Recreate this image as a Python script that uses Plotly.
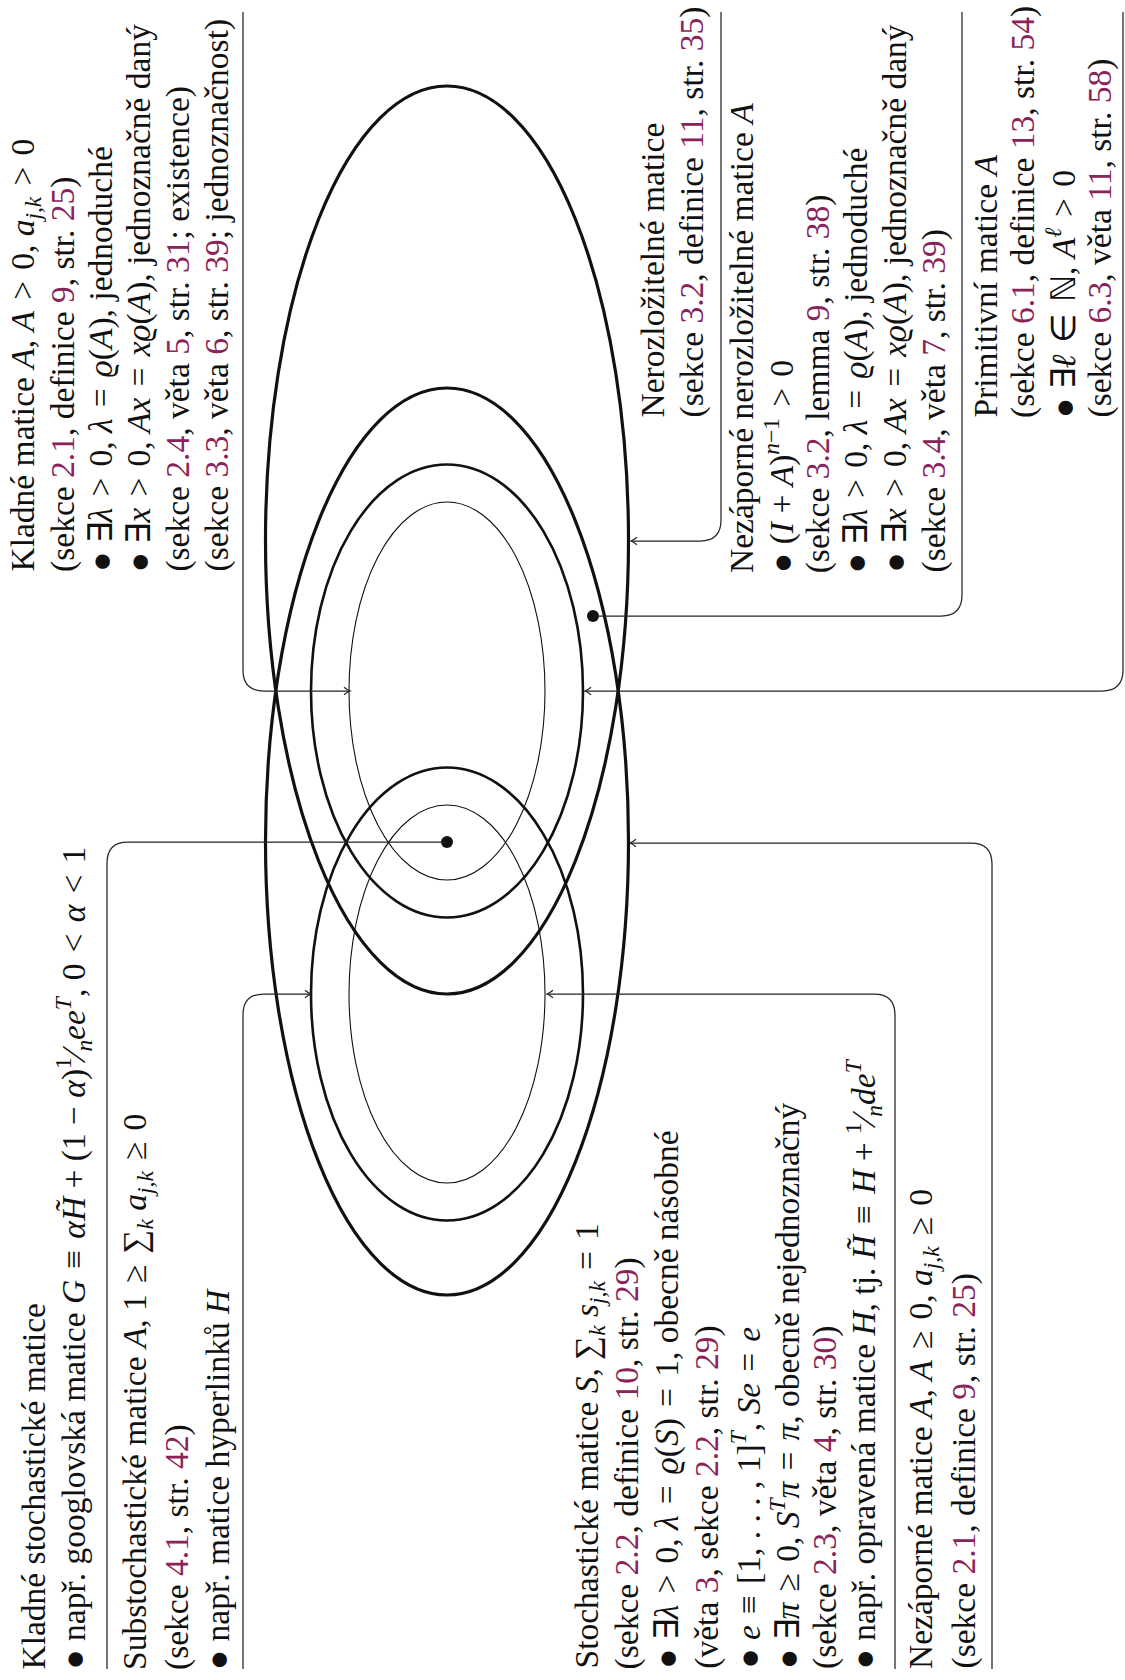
import re
import plotly.graph_objects as go

# ---------------- canvas ----------------
W, H = 1125, 1680
FONT = "Liberation Serif"
FS = 33.5
TEXT_COLOR = "#111111"
LINK_COLOR = "#8a2358"
LINE_COLOR = "#252525"

# ---------------- data: sets (ellipses) ----------------
SET_NAMES = ["Nerozložitelné", "Nezáporné", "Primitivní", "Kladné",
             "Substochastické", "Stochastické"]
ELL_CX = [447, 447, 447, 447, 447, 447]
ELL_CY = [540, 841.5, 691, 691, 994, 994]
ELL_RX = [181.5, 181.5, 136, 98, 136, 98]
ELL_RY = [454, 453.5, 226.5, 189, 226.5, 189]
ELL_W = [3.2, 3.2, 2.6, 1.1, 2.6, 1.1]

# ---------------- data: text blocks ----------------
KLADNE = [
    "Kladné matice <i>A</i>, <i>A</i> &gt; 0, <i>a</i><sub><i>j,k</i></sub> &gt; 0",
    "(sekce {2.1}, definice {9}, str. {25})",
    "• ∃<i>λ</i> &gt; 0, <i>λ</i> = <i>ϱ</i>(<i>A</i>), jednoduché",
    "• ∃<i>x</i> &gt; 0, <i>Ax</i> = <i>xϱ</i>(<i>A</i>), jednoznačně daný",
    "(sekce {2.4}, věta {5}, str. {31}; existence)",
    "(sekce {3.3}, věta {6}, str. {39}; jednoznačnost)",
]
NEROZLOZITELNE = [
    "Nerozložitelné matice",
    "(sekce {3.2}, definice {11}, str. {35})",
]
NEZAP_NEROZ = [
    "Nezáporné nerozložitelné matice <i>A</i>",
    "• (<i>I</i> + <i>A</i>)<sup><i>n</i>−1</sup> &gt; 0",
    "(sekce {3.2}, lemma {9}, str. {38})",
    "• ∃<i>λ</i> &gt; 0, <i>λ</i> = <i>ϱ</i>(<i>A</i>), jednoduché",
    "• ∃<i>x</i> &gt; 0, <i>Ax</i> = <i>xϱ</i>(<i>A</i>), jednoznačně daný",
    "(sekce {3.4}, věta {7}, str. {39})",
]
PRIMITIVNI = [
    "Primitivní matice <i>A</i>",
    "(sekce {6.1}, definice {13}, str. {54})",
    "• ∃<i>ℓ</i> ∈ ℕ, <i>A</i><sup><i>ℓ</i></sup> &gt; 0",
    "(sekce {6.3}, věta {11}, str. {58})",
]
KLADNE_STOCH = [
    "Kladné stochastické matice",
    "• např. googlovská matice <i>G</i> ≡ <i>αH̃</i> + (1 − <i>α</i>)<sup>1</sup>⁄<sub><i>n</i></sub><i>ee</i><sup><i>T</i></sup>, 0 &lt; <i>α</i> &lt; 1",
]
SUBSTOCH = [
    "Substochastické matice <i>A</i>, 1 ≥ ∑<sub><i>k</i></sub> <i>a</i><sub><i>j,k</i></sub> ≥ 0",
    "(sekce {4.1}, str. {42})",
    "• např. matice hyperlinků <i>H</i>",
]
STOCH = [
    "Stochastické matice <i>S</i>, ∑<sub><i>k</i></sub> <i>s</i><sub><i>j,k</i></sub> = 1",
    "(sekce {2.2}, definice {10}, str. {29})",
    "• ∃<i>λ</i> &gt; 0, <i>λ</i> = <i>ϱ</i>(<i>S</i>) = 1, obecně násobné",
    "(věta {3}, sekce {2.2}, str. {29})",
    "• <i>e</i> ≡ [1, . . . , 1]<sup><i>T</i></sup>, <i>Se</i> = <i>e</i>",
    "• ∃<i>π</i> ≥ 0, <i>S</i><sup><i>T</i></sup><i>π</i> = <i>π</i>, obecně nejednoznačný",
    "(sekce {2.3}, věta {4}, str. {30})",
    "• např. opravená matice <i>H</i>, tj. <i>H̃</i> ≡ <i>H</i> + <sup>1</sup>⁄<sub><i>n</i></sub><i>de</i><sup><i>T</i></sup>",
]
NEZAPORNE = [
    "Nezáporné matice <i>A</i>, <i>A</i> ≥ 0, <i>a</i><sub><i>j,k</i></sub> ≥ 0",
    "(sekce {2.1}, definice {9}, str. {25})",
]

# block layout: (lines, first column x, column step, text start y)
BLOCKS = [
    (KLADNE, 24, 38.4, 574),
    (NEROZLOZITELNE, 652, 39, 420),
    (NEZAP_NEROZ, 741, 38.4, 575),
    (PRIMITIVNI, 985, 38, 420),
    (KLADNE_STOCH, 33, 40, 1672),
    (SUBSTOCH, 137, 40, 1672),
    (STOCH, 588, 39.4, 1671),
    (NEZAPORNE, 923, 40, 1671),
]

# connectors: (tip x, tip y, vertical line x, vertical line end y, tip kind)
CONNECTORS = [
    (350, 691, 243, 12, "arrow"),     # Kladné
    (631, 541, 721, 12, "arrow"),     # Nerozložitelné
    (593, 616, 962, 12, "dot"),       # Nezáporné nerozložitelné
    (585, 691, 1123, 12, "arrow"),    # Primitivní
    (447, 842, 107, 1669, "dot"),     # Kladné stochastické
    (311, 994, 243, 1669, "arrow"),   # Substochastické
    (547, 994, 895, 1669, "arrow"),   # Stochastické
    (630, 843, 992, 1669, "arrow"),   # Nezáporné
]
CORNER_R = 21

REL_SPACE = "\u2004"   # wider space around relation symbols (TeX thick space)


def fmt(s):
    s = re.sub(r"\{([^}]*)\}",
               lambda m: f'<span style="color:{LINK_COLOR}">{m.group(1)}</span>', s)
    for rel in ["&gt;", "&lt;", "=", "≥", "≡", "∈"]:
        s = s.replace(f" {rel} ", f"{REL_SPACE}{rel}{REL_SPACE}")
    s = s.replace("• ", "● ")
    return s


fig = go.Figure()

# ellipses
for cx, cy, rx, ry, lw in zip(ELL_CX, ELL_CY, ELL_RX, ELL_RY, ELL_W):
    fig.add_shape(type="circle", xref="x", yref="y",
                  x0=cx - rx, x1=cx + rx, y0=cy - ry, y1=cy + ry,
                  line=dict(color="#111111", width=lw), fillcolor="rgba(0,0,0,0)")

# connectors
dot_x, dot_y = [], []
for tx, ty, vx, vy, kind in CONNECTORS:
    sx = 1 if vx > tx else -1
    sy = 1 if vy > ty else -1
    r = CORNER_R
    path = (f"M {tx},{ty} L {vx - sx * r},{ty} "
            f"Q {vx},{ty} {vx},{ty + sy * r} L {vx},{vy}")
    fig.add_shape(type="path", path=path, xref="x", yref="y",
                  line=dict(color=LINE_COLOR, width=1.25))
    if kind == "arrow":
        a, b = 6, 3.8
        head = (f"M {tx + sx * a},{ty - b} Q {tx + sx * 2},{ty - 0.6} {tx},{ty} "
                f"Q {tx + sx * 2},{ty + 0.6} {tx + sx * a},{ty + b}")
        fig.add_shape(type="path", path=head, xref="x", yref="y",
                      line=dict(color=LINE_COLOR, width=1.2))
    else:
        dot_x.append(tx)
        dot_y.append(ty)

fig.add_trace(go.Scatter(x=dot_x, y=dot_y, mode="markers",
                         marker=dict(size=12, color="#111111"),
                         hoverinfo="skip", showlegend=False))

# text blocks (rotated, reading bottom -> top)
for lines, x0, dx, y0 in BLOCKS:
    for i, s in enumerate(lines):
        fig.add_annotation(x=x0 + i * dx, y=y0, xref="x", yref="y",
                           text=fmt(s), textangle=-90, showarrow=False,
                           xanchor="center", yanchor="bottom", align="left",
                           font=dict(family=FONT, size=FS, color=TEXT_COLOR))

fig.update_xaxes(range=[0, W], visible=False, fixedrange=True)
fig.update_yaxes(range=[H, 0], visible=False, fixedrange=True)
fig.update_layout(width=W, height=H, margin=dict(l=0, r=0, t=0, b=0),
                  paper_bgcolor="white", plot_bgcolor="white", showlegend=False)

fig.write_html("out.html", config={"displayModeBar": False},
               post_script="document.body.style.margin='0';document.body.style.overflow='hidden';")
